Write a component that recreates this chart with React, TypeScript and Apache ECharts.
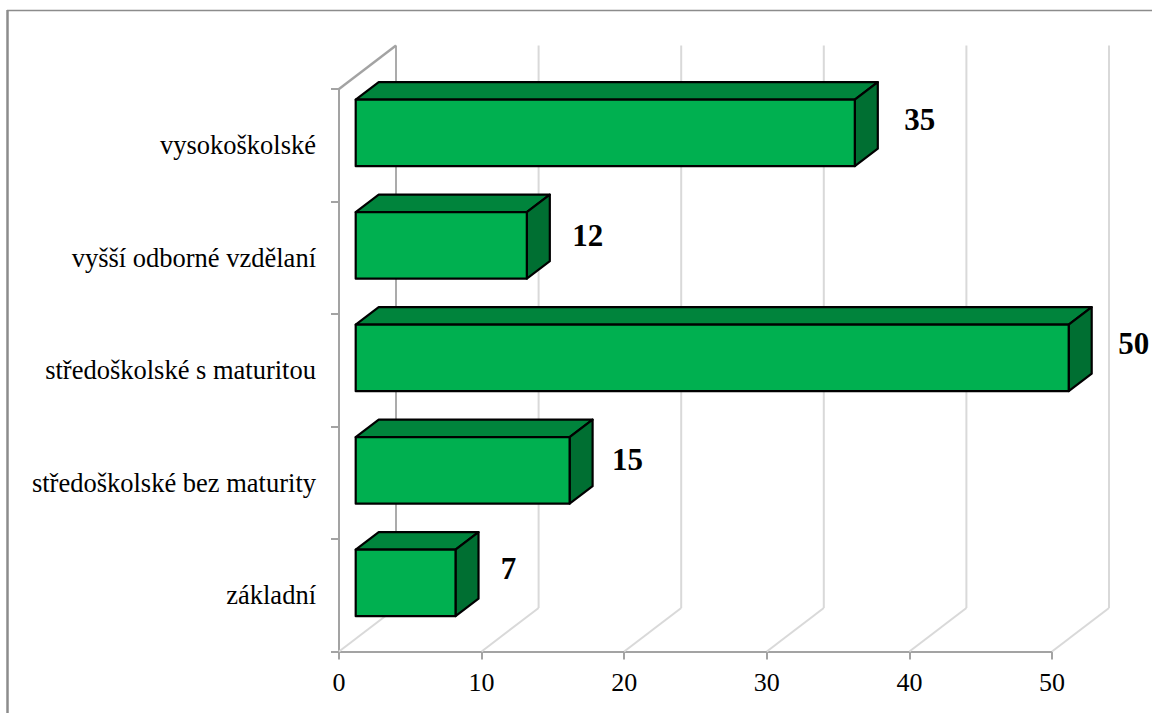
import React, { useEffect, useRef } from "react";
import * as echarts from "echarts";

const categories = [
  "základní",
  "středoškolské bez maturity",
  "středoškolské s maturitou",
  "vyšší odborné vzdělaní",
  "vysokoškolské",
];
const values = [7, 15, 50, 12, 35];
const xTicks = [0, 10, 20, 30, 40, 50];

const SERIF = '"Liberation Serif", "Times New Roman", serif';
// 3D projection, in pixels
const WALL_DX = 57;
const WALL_DY = -43.5;
const BAR_DX = 16.7;
const BAR_DY = -12.3;
const BAR_H = 66.5;
const SIDE_DX = 23;
const SIDE_DY = -17.5;
const LABEL_NUDGE: [number, number][] = [
  [53, -14],
  [58, -11],
  [65, -14],
  [61, -10],
  [65, -13],
];

export default function App() {
  const ref = useRef<HTMLDivElement>(null);
  useEffect(() => {
    document.body.style.margin = "0";
    const chart = echarts.init(ref.current!, null, { renderer: "svg" });
    const gridLeft = 339;
    const gridTop = 89;
    const gridW = 713;
    const gridH = 562.5;
    chart.setOption({
      animation: false,
      backgroundColor: "#ffffff",
      grid: { left: gridLeft, top: gridTop, width: gridW, height: gridH },
      xAxis: {
        type: "value",
        min: 0,
        max: 50,
        interval: 10,
        splitLine: { show: false },
        axisLine: { show: true, lineStyle: { color: "#A3A3A3", width: 2 } },
        axisTick: { show: true, length: 8, lineStyle: { color: "#A3A3A3", width: 2 } },
        axisLabel: { fontFamily: SERIF, fontSize: 26, color: "#000", margin: 18 },
      },
      yAxis: {
        type: "category",
        data: categories,
        axisLine: { show: true, lineStyle: { color: "#A3A3A3", width: 2 } },
        axisTick: { show: true, length: 8, lineStyle: { color: "#A3A3A3", width: 2 } },
        axisLabel: { fontFamily: SERIF, fontSize: 26.5, color: "#000", margin: 23, padding: [12, 0, 0, 0] },
      },
      graphic: [
        { type: "line", shape: { x1: 7.5, y1: 10, x2: 7.5, y2: 713 }, style: { stroke: "#8C8C8C", lineWidth: 2.5 } },
        { type: "line", shape: { x1: 7, y1: 10.5, x2: 1152, y2: 10.5 }, style: { stroke: "#8C8C8C", lineWidth: 1.5 } },
      ],
      series: [
        {
          type: "custom",
          coordinateSystem: "cartesian2d",
          z: 1,
          encode: { x: 0 },
          data: xTicks.map((t) => [t, 0]),
          renderItem: (params: any, api: any) => {
            const t = api.value(0);
            const cs = params.coordSys;
            const x = api.coord([t, 0])[0];
            const yB = cs.y + cs.height;
            const first = t === 0;
            const children: any[] = [
              {
                type: "polyline",
                shape: {
                  points: [
                    [x, yB],
                    [x + WALL_DX, yB + WALL_DY],
                  ],
                },
                style: { fill: "none", stroke: "#D9D9D9", lineWidth: 2 },
              },
              {
                type: "polyline",
                shape: {
                  points: [
                    [x + WALL_DX, yB + WALL_DY],
                    [x + WALL_DX, cs.y + WALL_DY],
                  ],
                },
                style: { fill: "none", stroke: first ? "#ABABAB" : "#D9D9D9", lineWidth: 2 },
              },
            ];
            if (first) {
              children.push({
                type: "polyline",
                shape: {
                  points: [
                    [x, cs.y],
                    [x + WALL_DX, cs.y + WALL_DY],
                  ],
                },
                style: { fill: "none", stroke: "#A3A3A3", lineWidth: 2.4 },
              });
            }
            return { type: "group", children };
          },
        },
        {
          type: "custom",
          coordinateSystem: "cartesian2d",
          z: 3,
          encode: { x: 0, y: 1 },
          data: values.map((v, i) => [v, i]),
          renderItem: (params: any, api: any) => {
            const v = api.value(0);
            const i = api.value(1);
            const c0 = api.coord([0, i]);
            const c1 = api.coord([v, i]);
            const x0 = c0[0] + BAR_DX;
            const x1 = c1[0] + BAR_DX;
            const yT = c0[1] + BAR_DY - BAR_H / 2;
            const yB = yT + BAR_H;
            const line = { stroke: "#000000", lineWidth: 2.2, lineJoin: "round" };
            const [nx, ny] = LABEL_NUDGE[params.dataIndex];
            return {
              type: "group",
              children: [
                {
                  type: "polygon",
                  shape: {
                    points: [
                      [x0, yT],
                      [x0 + SIDE_DX, yT + SIDE_DY],
                      [x1 + SIDE_DX, yT + SIDE_DY],
                      [x1, yT],
                    ],
                  },
                  style: { fill: "#00843C", ...line },
                },
                {
                  type: "polygon",
                  shape: {
                    points: [
                      [x1, yT],
                      [x1 + SIDE_DX, yT + SIDE_DY],
                      [x1 + SIDE_DX, yB + SIDE_DY],
                      [x1, yB],
                    ],
                  },
                  style: { fill: "#006F32", ...line },
                },
                {
                  type: "rect",
                  shape: { x: x0, y: yT, width: x1 - x0, height: BAR_H },
                  style: { fill: "#00B050", ...line },
                },
                {
                  type: "text",
                  x: x1 + nx,
                  y: yT + BAR_H / 2 + ny,
                  style: {
                    text: String(v),
                    font: `bold 31px ${SERIF}`,
                    fill: "#000000",
                    align: "center",
                    verticalAlign: "middle",
                  },
                },
              ],
            };
          },
        },
      ],
    });
    return () => chart.dispose();
  }, []);
  return <div ref={ref} style={{ position: "fixed", left: 0, top: 0, width: 1152, height: 713 }} />;
}
